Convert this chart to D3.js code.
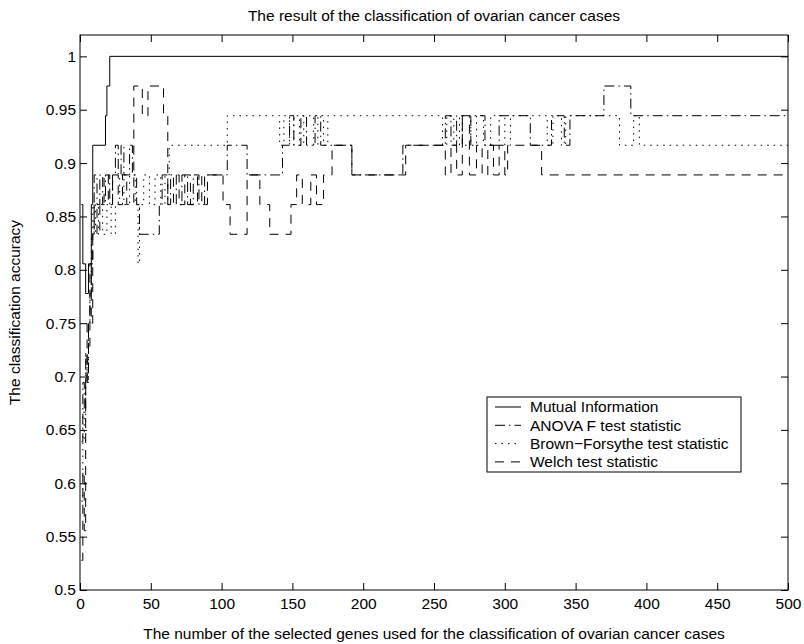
<!DOCTYPE html>
<html lang="en">
  <head>
    <meta charset="UTF-8" />
    <title>Classification of ovarian cancer cases</title>
    <script src="https://d3js.org/d3.v7.min.js"></script>
    <style>
      body {
        margin: 0;
        background: #fff;
      }
      svg {
        display: block;
        font-family: 'Liberation Sans', Arial, sans-serif;
      }
      .axis text {
        font-size: 15.5px;
        fill: #000;
      }
      .axis line {
        stroke: #000;
      }
      .series {
        fill: none;
        stroke: #000;
        stroke-width: 1;
      }
    </style>
  </head>
  <body>
    <div id="chart"></div>
    <script>
      // tick labels
      const xTicks = [0, 50, 100, 150, 200, 250, 300, 350, 400, 450, 500];
      const yTicks = [0.5, 0.55, 0.6, 0.65, 0.7, 0.75, 0.8, 0.85, 0.9, 0.95, 1];

      // accuracy vs number of genes, [genes, accuracy] at each change (held until next)
      const mutualInfo = [
        [1, 0.8611], [2, 0.8056], [4, 0.7778], [6, 0.8056], [8, 0.8611],
        [9, 0.9167], [18, 0.9444], [19, 0.9722], [21, 1], [500, 1],
      ];
      const anovaF = [
        [1, 0.6389], [2, 0.6944], [3, 0.6667], [4, 0.7222], [5, 0.6944],
        [6, 0.75], [7, 0.7778], [8, 0.8056], [9, 0.8333], [10, 0.8889],
        [12, 0.8611], [14, 0.8889], [16, 0.8611], [18, 0.8889], [21, 0.8611],
        [23, 0.8889], [25, 0.9167], [27, 0.8889], [29, 0.9167], [31, 0.8889],
        [35, 0.9167], [37, 0.8889], [40, 0.8611], [42, 0.8333], [56, 0.8611],
        [58, 0.8889], [62, 0.8611], [64, 0.8889], [68, 0.8611], [72, 0.8889],
        [76, 0.8611], [80, 0.8889], [84, 0.8611], [88, 0.8889], [104, 0.9167],
        [118, 0.8889], [143, 0.9167], [148, 0.9444], [151, 0.9167], [156, 0.9444],
        [160, 0.9167], [166, 0.9444], [170, 0.9167], [192, 0.8889], [228, 0.9167],
        [258, 0.9444], [262, 0.9167], [266, 0.9444], [270, 0.9167], [276, 0.9444],
        [286, 0.9167], [296, 0.9444], [318, 0.9167], [333, 0.9444], [342, 0.9167],
        [346, 0.9444], [370, 0.9722], [389, 0.9444], [500, 0.9444],
      ];
      const brownForsythe = [
        [1, 0.5833], [2, 0.6667], [3, 0.6389], [4, 0.7222], [5, 0.6944],
        [6, 0.75], [7, 0.7778], [8, 0.8333], [9, 0.8611], [11, 0.8333],
        [13, 0.8611], [16, 0.8333], [19, 0.8611], [22, 0.8333], [25, 0.8611],
        [28, 0.8889], [31, 0.8611], [35, 0.8889], [39, 0.8611], [41, 0.8056],
        [42, 0.8611], [45, 0.8889], [49, 0.8611], [53, 0.8889], [57, 0.8611],
        [60, 0.8889], [63, 0.9167], [104, 0.9444], [141, 0.9167], [144, 0.9444],
        [148, 0.9167], [151, 0.9444], [155, 0.9167], [158, 0.9444], [165, 0.9167],
        [168, 0.9444], [172, 0.9167], [175, 0.9444], [256, 0.9167], [259, 0.9444],
        [264, 0.9167], [268, 0.9444], [276, 0.9167], [280, 0.9444], [285, 0.9167],
        [290, 0.9444], [300, 0.9167], [304, 0.9444], [330, 0.9167], [334, 0.9444],
        [340, 0.9167], [343, 0.9444], [381, 0.9167], [391, 0.9444], [395, 0.9167],
        [500, 0.9167],
      ];
      const welch = [
        [1, 0.5278], [2, 0.6111], [3, 0.5556], [4, 0.6944], [5, 0.75],
        [6, 0.7222], [7, 0.8056], [8, 0.75], [9, 0.8333], [10, 0.8611],
        [12, 0.8333], [14, 0.8611], [17, 0.8889], [20, 0.8611], [23, 0.8889],
        [27, 0.8611], [30, 0.8889], [33, 0.8611], [38, 0.9722], [44, 0.9444],
        [48, 0.9722], [59, 0.9444], [62, 0.8611], [66, 0.8889], [70, 0.8611],
        [74, 0.8889], [78, 0.8611], [83, 0.8889], [86, 0.8611], [90, 0.8889],
        [101, 0.8611], [106, 0.8333], [118, 0.8889], [127, 0.8611], [134, 0.8333],
        [149, 0.8611], [153, 0.8889], [157, 0.8611], [163, 0.8889], [167, 0.8611],
        [172, 0.8889], [178, 0.9167], [192, 0.8889], [230, 0.9167], [258, 0.8889],
        [262, 0.9167], [266, 0.8889], [270, 0.9444], [275, 0.8889], [280, 0.9167],
        [284, 0.8889], [288, 0.9167], [292, 0.8889], [296, 0.9167], [300, 0.8889],
        [302, 0.9167], [326, 0.8889], [500, 0.8889],
      ];

      const legendNames = [
        'Mutual Information',
        'ANOVA F test statistic',
        'Brown\u2212Forsythe test statistic',
        'Welch test statistic',
      ];

      const width = 804;
      const height = 644;
      const margin = { top: 35, right: 16, bottom: 54, left: 80 };
      const innerW = width - margin.left - margin.right;
      const innerH = height - margin.top - margin.bottom;

      const svg = d3
        .select('#chart')
        .append('svg')
        .attr('width', width)
        .attr('height', height);

      svg.append('rect').attr('width', width).attr('height', height).attr('fill', '#fff');

      const g = svg
        .append('g')
        .attr('transform', `translate(${margin.left},${margin.top})`);

      const x = d3.scaleLinear().domain([0, 500]).range([0, innerW]);
      const y = d3.scaleLinear().domain([0.5, 1.02]).range([innerH, 0]);

      // axes, ticks pointing inward
      const fmt = (d) => String(d);
      g.append('g')
        .attr('class', 'axis')
        .attr('transform', `translate(0,${innerH})`)
        .call(d3.axisBottom(x).tickValues(xTicks).tickFormat(fmt).tickSizeInner(-7).tickSizeOuter(0).tickPadding(8));
      g.append('g')
        .attr('class', 'axis')
        .call(d3.axisLeft(y).tickValues(yTicks).tickFormat(fmt).tickSizeInner(-7).tickSizeOuter(0).tickPadding(4));
      g.append('g')
        .attr('class', 'axis')
        .call(d3.axisTop(x).tickValues(xTicks).tickFormat('').tickSizeInner(-7).tickSizeOuter(0));
      g.append('g')
        .attr('class', 'axis')
        .attr('transform', `translate(${innerW},0)`)
        .call(d3.axisRight(y).tickValues(yTicks).tickFormat('').tickSizeInner(-7).tickSizeOuter(0));
      g.selectAll('.axis .domain').remove();

      // series
      const series = [
        { data: mutualInfo, dash: null },
        { data: anovaF, dash: '10,4,1.5,4' },
        { data: brownForsythe, dash: '1.5,5' },
        { data: welch, dash: '9,7' },
      ];

      const line = d3
        .line()
        .x((d) => x(d[0]))
        .y((d) => y(d[1]))
        .curve(d3.curveStepAfter);

      g.selectAll('.series')
        .data(series)
        .join('path')
        .attr('class', 'series')
        .attr('d', (d) => line(d.data))
        .attr('stroke-dasharray', (d) => d.dash);

      // frame
      g.append('rect')
        .attr('width', innerW)
        .attr('height', innerH)
        .attr('fill', 'none')
        .attr('stroke', '#000')
        .attr('stroke-width', 1);

      // titles
      svg.append('text')
        .attr('x', margin.left + innerW / 2)
        .attr('y', 21)
        .attr('text-anchor', 'middle')
        .attr('font-size', '15.5px')
        .text('The result of the classification of ovarian cancer cases');

      svg.append('text')
        .attr('x', margin.left + innerW / 2)
        .attr('y', 639)
        .attr('text-anchor', 'middle')
        .attr('font-size', '15.5px')
        .text('The number of the selected genes used for the classification of ovarian cancer cases');

      svg.append('text')
        .attr('transform', `translate(20,${margin.top + innerH / 2}) rotate(-90)`)
        .attr('text-anchor', 'middle')
        .attr('font-size', '15.5px')
        .text('The classification accuracy');

      // legend
      const legend = svg.append('g').attr('transform', 'translate(487,397)');
      legend.append('rect')
        .attr('width', 254)
        .attr('height', 75)
        .attr('fill', '#fff')
        .attr('stroke', '#000')
        .attr('stroke-width', 1);

      const rows = legend
        .selectAll('.row')
        .data(series)
        .join('g')
        .attr('class', 'row')
        .attr('transform', (d, i) => `translate(0,${10 + i * 18.3})`);

      rows.append('line')
        .attr('x1', 8)
        .attr('x2', 34)
        .attr('stroke', '#000')
        .attr('stroke-width', 1)
        .attr('stroke-dasharray', (d) => d.dash);

      rows.append('text')
        .attr('x', 43)
        .attr('dy', '0.35em')
        .attr('font-size', '15.5px')
        .text((d, i) => legendNames[i]);
    </script>
  </body>
</html>
